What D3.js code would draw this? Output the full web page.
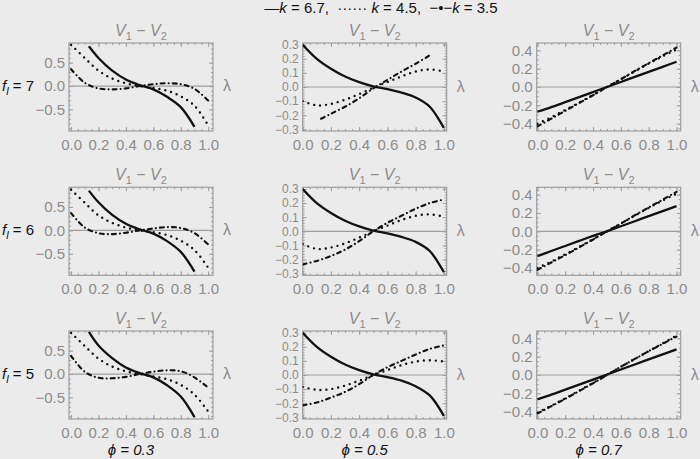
<!DOCTYPE html>
<html>
<head>
<meta charset="utf-8">
<style>
  body { margin: 0; background: #ebebeb; }
  svg { display: block; font-family: "Liberation Sans", Arial, sans-serif; }
</style>
</head>
<body>
<div id="vis"></div>

<script src="https://d3js.org/d3.v7.min.js"></script>

<script>
    // lambda grids the curves are read on
    const lamFull = [0, 0.1, 0.2, 0.3, 0.4, 0.5, 0.6, 0.7, 0.8, 0.9, 1.0];
    const lamCut = [0.13, 0.2, 0.3, 0.4, 0.5, 0.6, 0.7, 0.8, 0.9];

    const fLevels = [7, 6, 5];
    const phiLevels = [0.3, 0.5, 0.7];
    const kLevels = [6.7, 4.5, 3.5];

    // f_l = 7
    const f7p3k67 = [0.85, 0.60, 0.33, 0.14, 0.02, -0.07, -0.23, -0.45, -0.87];
    const f7p3k45 = [0.88, 0.60, 0.33, 0.16, 0.06, 0.0, -0.04, -0.10, -0.22, -0.42, -0.84];
    const f7p3k35 = [0.36, 0.07, -0.05, -0.07, -0.05, 0.0, 0.04, 0.06, 0.04, -0.06, -0.31];
    const f7p5k67 = [0.30, 0.20, 0.13, 0.075, 0.035, 0.005, -0.015, -0.04, -0.075, -0.14, -0.29];
    const f7p5k45 = [-0.10, -0.13, -0.12, -0.09, -0.05, -0.005, 0.035, 0.075, 0.11, 0.125, 0.11];
    const f7p5k35 = [-0.225, -0.19, -0.14, -0.08, -0.01, 0.05, 0.11, 0.165, 0.225];
    const f7p7k67 = [-0.27, -0.22, -0.165, -0.11, -0.055, 0.0, 0.055, 0.11, 0.165, 0.22, 0.275];
    const f7p7k45 = [-0.40, -0.33, -0.25, -0.17, -0.085, 0.0, 0.085, 0.17, 0.255, 0.335, 0.41];
    const f7p7k35 = [-0.43, -0.345, -0.26, -0.175, -0.09, 0.0, 0.085, 0.175, 0.26, 0.345, 0.43];

    // f_l = 6
    const f6p3k67 = [0.85, 0.60, 0.33, 0.14, 0.02, -0.07, -0.23, -0.46, -0.88];
    const f6p3k45 = [0.87, 0.59, 0.32, 0.16, 0.06, 0.0, -0.04, -0.10, -0.22, -0.42, -0.80];
    const f6p3k35 = [0.37, 0.06, -0.06, -0.08, -0.05, 0.0, 0.04, 0.07, 0.05, -0.06, -0.30];
    const f6p5k67 = [0.30, 0.20, 0.13, 0.075, 0.035, 0.005, -0.015, -0.04, -0.075, -0.14, -0.29];
    const f6p5k45 = [-0.09, -0.125, -0.115, -0.085, -0.045, 0.0, 0.04, 0.08, 0.11, 0.12, 0.105];
    const f6p5k35 = [-0.235, -0.21, -0.175, -0.13, -0.07, 0.0, 0.06, 0.11, 0.16, 0.20, 0.225];
    const f6p7k67 = [-0.27, -0.215, -0.16, -0.105, -0.05, 0.0, 0.055, 0.11, 0.165, 0.22, 0.275];
    const f6p7k45 = [-0.40, -0.33, -0.25, -0.17, -0.085, 0.0, 0.085, 0.17, 0.255, 0.335, 0.41];
    const f6p7k35 = [-0.42, -0.34, -0.26, -0.175, -0.09, 0.0, 0.085, 0.175, 0.26, 0.345, 0.43];

    // f_l = 5
    const f5p3k67 = [0.90, 0.61, 0.34, 0.14, 0.02, -0.07, -0.24, -0.48, -0.92];
    const f5p3k45 = [0.88, 0.60, 0.33, 0.16, 0.06, 0.0, -0.05, -0.11, -0.23, -0.44, -0.80];
    const f5p3k35 = [0.39, 0.05, -0.08, -0.09, -0.06, 0.0, 0.05, 0.08, 0.06, -0.07, -0.29];
    const f5p5k67 = [0.30, 0.20, 0.13, 0.075, 0.035, 0.005, -0.015, -0.04, -0.08, -0.145, -0.29];
    const f5p5k45 = [-0.085, -0.105, -0.10, -0.075, -0.04, 0.0, 0.035, 0.07, 0.095, 0.105, 0.095];
    const f5p5k35 = [-0.215, -0.195, -0.16, -0.12, -0.065, 0.0, 0.055, 0.10, 0.145, 0.185, 0.21];
    const f5p7k67 = [-0.265, -0.215, -0.16, -0.105, -0.05, 0.005, 0.06, 0.115, 0.17, 0.225, 0.28];
    const f5p7k45 = [-0.41, -0.335, -0.255, -0.17, -0.085, 0.0, 0.09, 0.175, 0.26, 0.345, 0.43];
    const f5p7k35 = [-0.42, -0.34, -0.26, -0.175, -0.09, 0.0, 0.09, 0.175, 0.26, 0.34, 0.42];

    // tick labels
    const xTicks = [0, 0.2, 0.4, 0.6, 0.8, 1.0];
    const yTicksByCol = [[-0.5, 0, 0.5], [-0.3, -0.2, -0.1, 0, 0.1, 0.2, 0.3], [-0.4, -0.2, 0, 0.2, 0.4]];

    // panel table: rows are f_l, columns are phi, series are k
    const panels = [
        [[f7p3k67, f7p3k45, f7p3k35], [f7p5k67, f7p5k45, f7p5k35], [f7p7k67, f7p7k45, f7p7k35]],
        [[f6p3k67, f6p3k45, f6p3k35], [f6p5k67, f6p5k45, f6p5k35], [f6p7k67, f6p7k45, f6p7k35]],
        [[f5p3k67, f5p3k45, f5p3k35], [f5p5k67, f5p5k45, f5p5k35], [f5p7k67, f5p7k45, f5p7k35]]
    ];

    // layout
    const W = 700, H = 459;
    const colX = [69, 302.7, 536.7], rowY = [43, 187.3, 331];
    const frameW = 144, frameH = 88;
    const xDomains = [[-0.015, 1.035], [0, 1.02], [-0.005, 1.03]];
    const yDomains = [[-0.96, 0.92], [-0.312, 0.312], [-0.48, 0.48]];
    const yMinorStep = [0.1, 0.02, 0.05];
    const yLabelSize = ["15px", "12px", "15px"];  // middle column is packed tight
    const grey = "#8c8c8c", frameGrey = "#9e9e9e";

    const styles = [
        {width: 2.3, dash: null, cap: "butt"},
        {width: 2.4, dash: "0,6", cap: "round"},
        {width: 2.1, dash: "4,4,0.1,4", cap: "round"}
    ];

    const fmt = d3.format(".1f");

    const svg = d3.select("#vis")
        .append("svg")
        .attr("width", W)
        .attr("height", H);

    // legend
    const legend = svg.append("text")
        .attr("x", 381)
        .attr("y", 13)
        .attr("text-anchor", "middle")
        .style("font-size", "15px")
        .style("white-space", "pre")
        .attr("fill", "#111");
    legend.append("tspan").text("\u2014");
    legend.append("tspan").style("font-style", "italic").text("k");
    legend.append("tspan").text(" = 6.7,  \u00b7\u00b7\u00b7\u00b7\u00b7\u00b7 ");
    legend.append("tspan").style("font-style", "italic").text("k");
    legend.append("tspan").text(" = 4.5,  \u2212\u2022\u2212");
    legend.append("tspan").style("font-style", "italic").text("k");
    legend.append("tspan").text(" = 3.5");

    function minorTicks(dom, step) {
        let out = [];
        let start = Math.ceil(dom[0] / step - 1e-6);
        for (let i = start; i * step <= dom[1] + 1e-9; i++) out.push(+(i * step).toFixed(4));
        return out;
    }

    function styleAxis(g, size) {
        g.select(".domain").remove();
        g.selectAll(".tick line").attr("stroke", frameGrey);
        g.selectAll(".tick text")
            .attr("fill", grey)
            .style("font-size", size || "15px")
            .style("font-family", "'Liberation Sans', Arial, sans-serif");
    }

    panels.forEach(function (row, r) {
        row.forEach(function (series, c) {
            let g = svg.append("g")
                .attr("transform", "translate(" + colX[c] + "," + rowY[r] + ")");

            let x = d3.scaleLinear().domain(xDomains[c]).range([0, frameW]);
            let y = d3.scaleLinear().domain(yDomains[c]).range([frameH, 0]);

            let xMinor = minorTicks(xDomains[c], 0.05);
            let yMinor = minorTicks(yDomains[c], yMinorStep[c]);

            // minor ticks on all four sides
            g.append("g").attr("transform", "translate(0," + frameH + ")")
                .call(d3.axisBottom(x).tickValues(xMinor).tickSize(-2).tickFormat("")).call(styleAxis);
            g.append("g")
                .call(d3.axisTop(x).tickValues(xMinor).tickSize(-2).tickFormat("")).call(styleAxis);
            g.append("g")
                .call(d3.axisLeft(y).tickValues(yMinor).tickSize(-2).tickFormat("")).call(styleAxis);
            g.append("g").attr("transform", "translate(" + frameW + ",0)")
                .call(d3.axisRight(y).tickValues(yMinor).tickSize(-2).tickFormat("")).call(styleAxis);

            // major ticks with labels on the bottom and left
            g.append("g").attr("transform", "translate(0," + frameH + ")")
                .call(d3.axisBottom(x).tickValues(xTicks).tickSize(-4).tickPadding(8).tickFormat(fmt))
                .call(styleAxis);
            g.append("g")
                .call(d3.axisTop(x).tickValues(xTicks).tickSize(-4).tickFormat("")).call(styleAxis);
            g.append("g")
                .call(d3.axisLeft(y).tickValues(yTicksByCol[c]).tickSize(-4).tickPadding(4).tickFormat(fmt))
                .call(styleAxis, yLabelSize[c]);
            g.append("g").attr("transform", "translate(" + frameW + ",0)")
                .call(d3.axisRight(y).tickValues(yTicksByCol[c]).tickSize(-4).tickFormat("")).call(styleAxis);

            // zero line
            g.append("line")
                .attr("x1", 0).attr("x2", frameW)
                .attr("y1", y(0)).attr("y2", y(0))
                .attr("stroke", frameGrey)
                .attr("stroke-width", 1.2);

            // frame
            g.append("rect")
                .attr("width", frameW).attr("height", frameH)
                .attr("fill", "none")
                .attr("stroke", frameGrey)
                .attr("stroke-width", 1.2);

            let clipId = "clip" + r + c;
            g.append("clipPath").attr("id", clipId)
                .append("rect").attr("width", frameW).attr("height", frameH);

            let line = d3.line()
                .x(function (d) { return x(d[0]); })
                .y(function (d) { return y(d[1]); })
                .curve(d3.curveCatmullRom.alpha(0.5));

            series.forEach(function (vals, s) {
                let lam = vals.length === lamFull.length ? lamFull : lamCut;
                let pts = vals.map(function (v, i) { return [lam[i], v]; });
                let st = styles[s];
                g.append("path")
                    .datum(pts)
                    .attr("clip-path", "url(#" + clipId + ")")
                    .attr("d", line)
                    .attr("fill", "none")
                    .attr("stroke", "#111")
                    .attr("stroke-width", st.width)
                    .attr("stroke-linecap", st.cap)
                    .attr("stroke-dasharray", st.dash);
            });

            // title
            let t = g.append("text")
                .attr("x", frameW / 2)
                .attr("y", -7)
                .attr("text-anchor", "middle")
                .attr("fill", grey)
                .style("font-size", "16px");
            t.append("tspan").style("font-style", "italic").text("V");
            t.append("tspan").attr("dy", 4).style("font-size", "11px").text("1");
            t.append("tspan").attr("dy", -4).text(" \u2212 ");
            t.append("tspan").style("font-style", "italic").text("V");
            t.append("tspan").attr("dy", 4).style("font-size", "11px").text("2");

            // lambda label
            g.append("text")
                .attr("x", frameW + 10)
                .attr("y", y(0) + 5)
                .attr("fill", grey)
                .style("font-size", "16px")
                .text("\u03bb");

            // row label
            if (c === 0) {
                let f = svg.append("text")
                    .attr("x", 2)
                    .attr("y", rowY[r] + y(0) + 5)
                    .attr("fill", "#111")
                    .style("font-size", "15px");
                f.append("tspan").style("font-style", "italic").text("f");
                f.append("tspan").attr("dy", 4).style("font-style", "italic").style("font-size", "11px").text("l");
                f.append("tspan").attr("dy", -4).text(" = " + fLevels[r]);
            }

            // column label
            if (r === 2) {
                svg.append("text")
                    .attr("x", colX[c] + frameW / 2 - 10)
                    .attr("y", 455)
                    .attr("text-anchor", "middle")
                    .attr("fill", "#111")
                    .style("font-size", "15px")
                    .style("font-style", "italic")
                    .text("\u03d5 = " + phiLevels[c]);
            }
        });
    });
</script>
</body>
</html>
